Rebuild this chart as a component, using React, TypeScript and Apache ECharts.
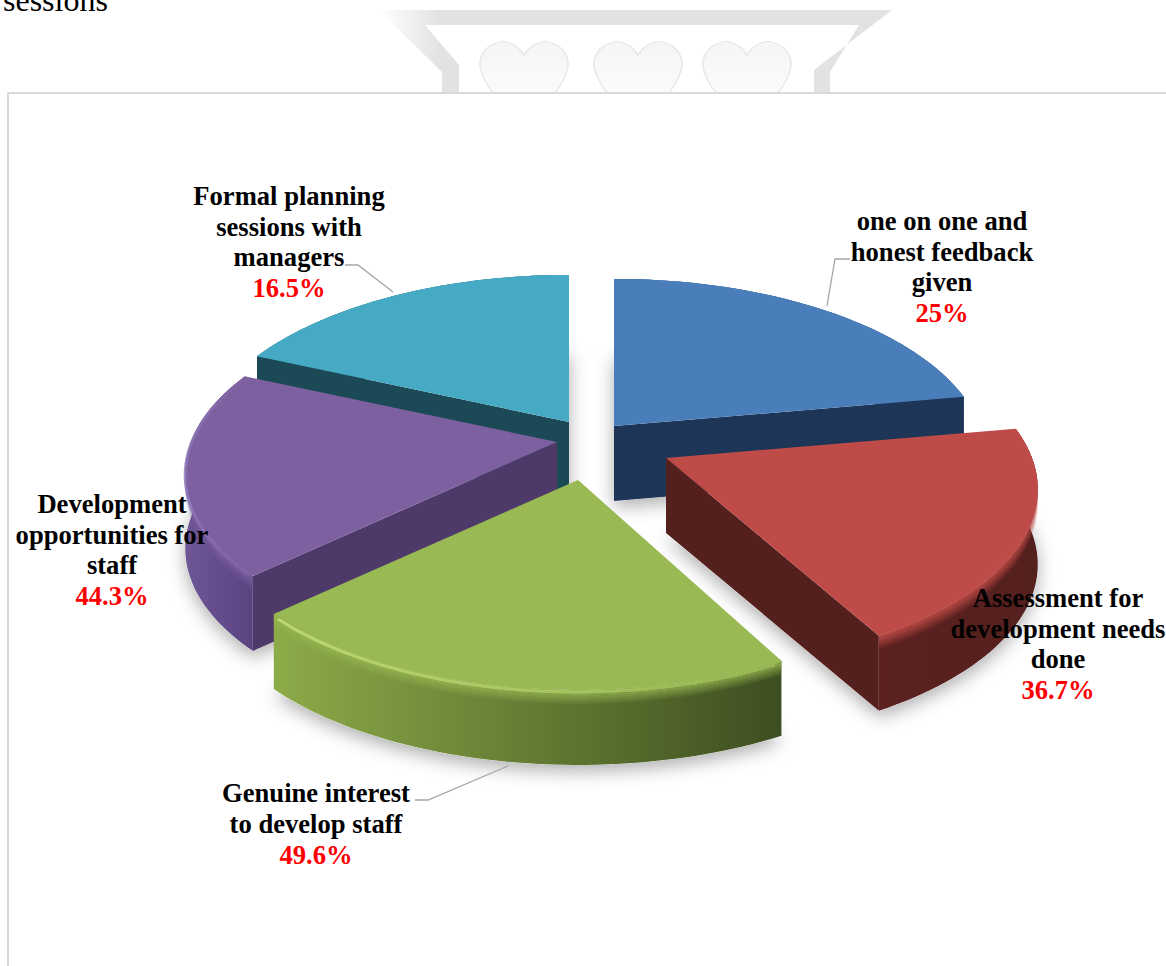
import React, { useEffect, useRef } from "react";
import * as echarts from "echarts";

// Data
const categories = [
  ["one on one and", "honest feedback", "given"],
  ["Assessment for", "development needs", "done"],
  ["Genuine interest", "to develop staff"],
  ["Development", "opportunities for", "staff"],
  ["Formal planning", "sessions with", "managers"],
];
const percentLabels = ["25%", "36.7%", "49.6%", "44.3%", "16.5%"];
// The drawn slices are not proportional to the printed percentages: sweep in degrees as drawn
const sliceSweeps = [80, 72, 75, 67, 66];

// Layout and styles
const DISK = { a: 366, b: 173, k: 0.176, depth: 75 };
const APEX = [[614, 426], [666, 458], [578, 480], [557, 442], [569, 422]];
const END_TRIM = [0, 1.5, 0, 0, 0];
const DRAW_RANK = [1, 3, 4, 2, 0];
const LABEL_POS = [[942, 267], [1058, 644], [316, 824], [112, 550], [289, 242]];
const LEADERS = [
  [[850, 259], [835, 259], [827, 306]],
  null,
  [[415, 800], [428, 800], [508, 766]],
  null,
  [[345, 265], [358, 265], [393, 292]],
];
const STYLES = [
  { top: "#4a7ebb", rim: ["#2a4a75", "#1d3557"], cut: "#1d3557", glow: null },
  { top: "#be4b48", rim: ["#5a211f", "#54201e"], cut: "#54201e", glow: null },
  { top: "#98b954", rim: ["#8cab48", "#3d4e20"], cut: "#3d4e20", glow: "#c6e07a" },
  { top: "#7d60a0", rim: ["#6f5695", "#5a4480"], cut: "#4e3a69", glow: "#8f78b8" },
  { top: "#46aac4", rim: ["#1b4a56", "#1b4a56"], cut: "#1b4a56", glow: null },
];

const HEART = "M45 24 C40 6 26 -2 20 2 C6 8 -2 26 2 50 C6 72 14 88 22 100 L68 100 C76 88 84 72 88 50 C92 26 84 8 70 2 C64 -2 50 6 45 24 Z";
echarts.graphic.registerShape("heart", (echarts.graphic as any).extendPath(HEART, {}));

function project(apex: number[], deg: number, r: number, dy = 0) {
  const t = (deg * Math.PI) / 180;
  const u = r * Math.sin(t);
  const v = -r * Math.cos(t);
  const s = 1 / (1 - DISK.k * v);
  return [apex[0] + DISK.a * u * s, apex[1] + DISK.b * v * s + dy];
}

function arc(apex: number[], t0: number, t1: number, dy = 0) {
  const pts: number[][] = [];
  const n = Math.ceil(Math.abs(t1 - t0) / 1.5);
  for (let i = 0; i <= n; i++) pts.push(project(apex, t0 + ((t1 - t0) * i) / n, 1, dy));
  return pts;
}

function horiz(c0: string, c1: string) {
  return { type: "linear", x: 0, y: 0, x2: 1, y2: 0, colorStops: [{ offset: 0, color: c0 }, { offset: 1, color: c1 }] };
}

function renderSlice(params: any, api: any) {
  const i = params.dataIndex;
  const sweep = api.value(0);
  let t0 = 0;
  for (let j = 0; j < i; j++) t0 += sliceSweeps[j];
  const t1 = t0 + sweep - END_TRIM[i];
  const apex = APEX[i];
  const st = STYLES[i];
  const base = 10 + DRAW_RANK[i] * 20;
  const d = DISK.depth;
  const children: any[] = [];
  const poly = (points: number[][], style: any, z: number) =>
    children.push({ type: "polygon", shape: { points }, style, z2: base + z, silent: true });

  const topRim = arc(apex, t0, t1);
  const botRim = arc(apex, t0, t1, d);
  const surface = [apex, ...topRim];

  // soft ground shadow
  poly([[apex[0], apex[1] + d], ...botRim], { fill: "#ffffff", shadowBlur: 18, shadowColor: "rgba(0,0,0,0.32)", shadowOffsetY: 6 }, -base + 1);

  // outer wall
  poly([...topRim, ...botRim.slice().reverse()], { fill: horiz(st.rim[0], st.rim[1]) }, 1);

  // bevel bands fading from the top colour into the wall
  const bands = 7;
  const bandH = 2;
  for (let b = 0; b < bands; b++) {
    const up = arc(apex, t0, t1, b * bandH);
    const low = arc(apex, t0, t1, (b + 1) * bandH);
    poly([...up, ...low.slice().reverse()], { fill: st.top, opacity: 0.95 * (1 - b / bands) }, 2);
  }

  // cut walls, only where they face the viewer
  const mid = project(apex, (t0 + t1) / 2, 1);
  const cutWall = (p: number[]) => {
    const ex = p[0] - apex[0];
    const ey = p[1] - apex[1];
    const side = ex * (mid[1] - apex[1]) - ey * (mid[0] - apex[0]);
    if (side * ex * d < 0) {
      poly([apex, p, [p[0], p[1] + d], [apex[0], apex[1] + d]], { fill: st.cut }, 3);
    }
  };
  cutWall(topRim[0]);
  cutWall(topRim[topRim.length - 1]);

  // top surface
  poly(surface, { fill: st.top }, 4);

  // rim highlight
  if (st.glow) {
    const points = arc(apex, t0 + 1, t1 - 1, 2);
    children.push({
      type: "polyline",
      shape: { points },
      style: { stroke: horiz(st.glow, st.top), lineWidth: 3, fill: "none", opacity: 0.8 },
      z2: base + 5,
      silent: true,
    });
  }

  // leader line
  if (LEADERS[i]) {
    children.push({
      type: "polyline",
      shape: { points: LEADERS[i] },
      style: { stroke: "#a6a6a6", lineWidth: 1.3, fill: "none" },
      z2: 200,
      silent: true,
    });
  }

  // label
  const lines = categories[i].map((l) => `{n|${l}}`);
  children.push({
    type: "text",
    x: LABEL_POS[i][0],
    y: LABEL_POS[i][1],
    style: {
      text: [...lines, `{p|${percentLabels[i]}}`].join("\n"),
      align: "center",
      verticalAlign: "middle",
      rich: {
        n: { fontFamily: "Liberation Serif", fontWeight: "bold", fontSize: 26.6, lineHeight: 30.7, fill: "#000", align: "center" },
        p: { fontFamily: "Liberation Serif", fontWeight: "bold", fontSize: 26.6, lineHeight: 30.7, fill: "#ff0000", align: "center" },
      },
    },
    z2: 210,
    silent: true,
  });

  return { type: "group", children };
}

function heartEl(x: number) {
  return {
    type: "heart",
    x,
    y: 41,
    scaleX: 1,
    scaleY: 0.6,
    silent: true,
    style: {
      fill: { type: "linear", x: 0, y: 0, x2: 0, y2: 1, colorStops: [{ offset: 0, color: "#f5f5f5" }, { offset: 1, color: "#fcfcfc" }] },
      stroke: "#e6e6e6",
      lineWidth: 1.5,
    },
  };
}

export default function App() {
  const ref = useRef<HTMLDivElement>(null);
  useEffect(() => {
    const chart = echarts.init(ref.current!, null, { renderer: "svg" });
    chart.setOption({
      animation: false,
      backgroundColor: "#ffffff",
      graphic: [
        {
          type: "polygon",
          silent: true,
          shape: {
            points: [[379, 10], [892, 10], [814, 70], [814, 100], [830, 100], [830, 72], [859, 25], [425, 25], [459, 65], [459, 100], [442, 100], [442, 72]],
          },
          style: {
            fill: { type: "linear", x: 0, y: 0, x2: 1, y2: 0, colorStops: [{ offset: 0, color: "#ffffff" }, { offset: 0.12, color: "#e2e2e2" }, { offset: 1, color: "#e2e2e2" }] },
          },
        },
        heartEl(479),
        heartEl(593),
        heartEl(702),
        {
          type: "rect",
          silent: true,
          shape: { x: 8, y: 93, width: 1170, height: 885 },
          style: { fill: "#ffffff", stroke: "#d9d9d9", lineWidth: 2 },
        },
        {
          type: "text",
          silent: true,
          x: 3,
          y: 16,
          style: { text: "sessions", fontFamily: "Liberation Serif", fontSize: 32, fill: "#000", verticalAlign: "bottom", align: "left" },
        },
      ],
      series: [
        {
          type: "custom",
          coordinateSystem: "none",
          silent: true,
          clip: false,
          renderItem: renderSlice,
          data: sliceSweeps.map((s, i) => ({ name: categories[i].join(" "), value: [s] })),
        },
      ],
    });
    return () => chart.dispose();
  }, []);
  return <div ref={ref} style={{ position: "fixed", left: 0, top: 0, width: 1166, height: 966 }} />;
}
